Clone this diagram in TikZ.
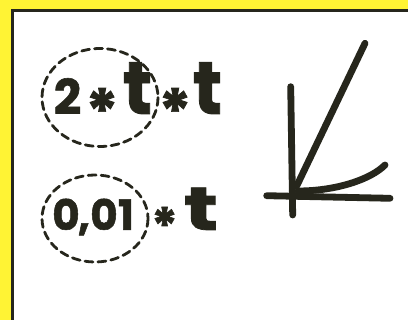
\documentclass[tikz,border=0pt]{standalone}
\usepackage{fontspec}
\setmainfont{Poppins}[BoldFont={* Bold}, BoldFeatures={FakeBold=1.2}]
\definecolor{bgyellow}{RGB}{255,243,52}
\definecolor{ink}{RGB}{38,38,28}
\newcommand{\tallt}[2]{\scalebox{#1}[#2]{t}}
\tikzset{
  glyphA/.style={inner sep=0pt, text=ink, font=\fontsize{48}{48}\selectfont\bfseries, anchor=base},
  glyphB/.style={inner sep=0pt, text=ink, font=\fontsize{42}{42}\selectfont\bfseries, anchor=base},
  starA/.style={inner sep=0pt, text=ink, font=\fontsize{62}{62}\selectfont\bfseries},
  starB/.style={inner sep=0pt, text=ink, font=\fontsize{50}{50}\selectfont\bfseries},
  ring/.style={draw=ink, line width=2.8pt, dash pattern=on 8pt off 5pt, line cap=round},
  pen/.style={draw=ink, line width=6.8pt, line cap=round, line join=round}
}
\begin{document}
\begin{tikzpicture}[x=1pt,y=-1pt]
\useasboundingbox (0,0) rectangle (408,320);
\fill[bgyellow] (0,0) rectangle (408,320);
\filldraw[fill=white, draw=ink, line width=3pt] (12,10.5) rectangle (420,335);
% first expression
\node[glyphA] (two) at (67.5,114) {2};
\node[starA, yshift=-11pt] (s1) at (102,100) {*};
\node[glyphA] (t1) at (137.5,114) {\tallt{1.5}{1.55}};
\node[starA, yshift=-11pt] (s2) at (175,100) {*};
\node[glyphA] (t2) at (207.5,114) {\tallt{1.5}{1.55}};
\draw[ring] (100,97.5) ellipse [x radius=58, y radius=49];
% second expression
\node[glyphB] (zeroA) at (66,230) {0};
\node[glyphB] (comma) at (84,230) {,};
\node[glyphB] (zeroB) at (104,230) {0};
\node[glyphB] (one) at (126,230) {1};
\node[starB, yshift=-9pt] (s3) at (164.5,216.5) {*};
\node[glyphB] (t3) at (201,230) {\tallt{2}{1.45}};
\draw[ring] (95,218.5) ellipse [x radius=53, y radius=43.5];
% graph
\draw[pen] (290.7,86.7) -- (292.7,215);
\draw[pen] (266.7,195.7) -- (390,198.3);
\draw[pen] (365,43.3) -- (296.7,186);
\draw[pen] (385,165) .. controls (370,180) and (335,191) .. (298,191);
\end{tikzpicture}
\end{document}
